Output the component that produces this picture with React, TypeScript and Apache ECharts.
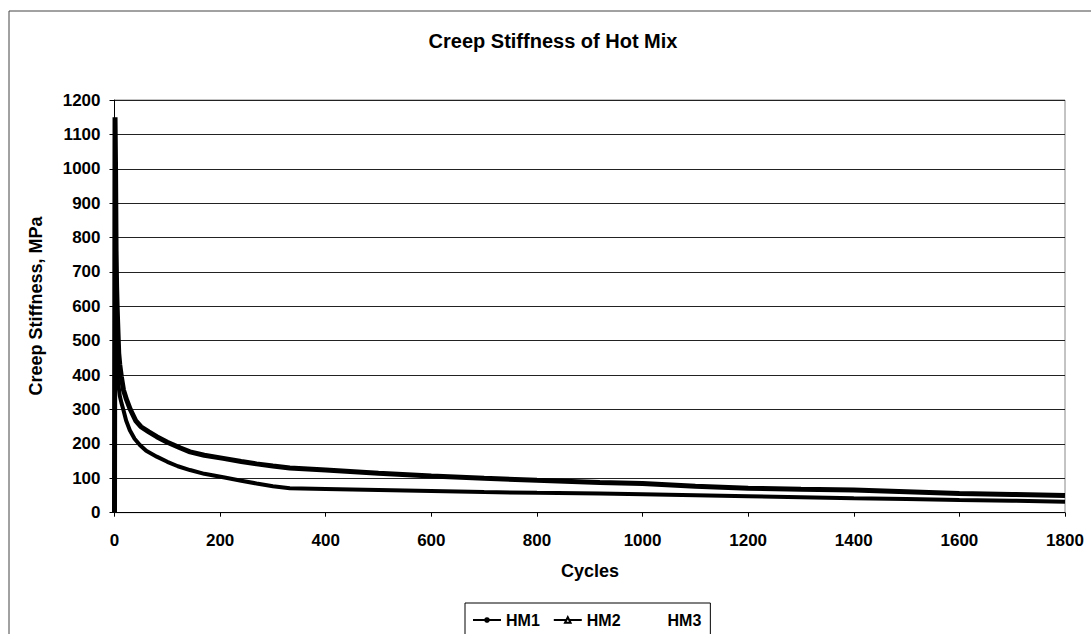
import React, { useEffect, useRef } from "react";
import * as echarts from "echarts";

const FONT = "'Liberation Sans', Arial, sans-serif";

const titleText = "Creep Stiffness of Hot Mix";
const xAxisName = "Cycles";
const yAxisName = "Creep Stiffness, MPa";
const seriesNames = ["HM1", "HM2", "HM3"];

const hm1Cycles = [0, 1, 2, 3, 5, 7, 10, 13, 17, 22, 29, 38, 48, 60, 80, 100, 120, 143, 170, 206, 240, 269, 300, 332, 400, 500, 600, 700, 800, 919, 1000, 1100, 1200, 1300, 1400, 1500, 1600, 1700, 1800];
const hm1Values = [0, 620, 520, 470, 420, 377, 340, 320, 298, 268, 240, 215, 197, 180, 163, 148, 135, 124, 113, 103, 93, 85, 77, 71, 69, 66, 63, 60, 58, 56, 54, 51, 48, 45, 42, 40, 37, 35, 32];

const hm2Cycles = [0, 1, 2, 3, 4, 5, 6, 8, 10, 13, 17, 23, 30, 40, 50, 65, 80, 100, 125, 143, 170, 206, 240, 269, 300, 332, 400, 500, 600, 700, 800, 919, 1000, 1100, 1200, 1300, 1400, 1500, 1600, 1700, 1800];
const hm2Values = [0, 1150, 1000, 760, 657, 599, 551, 464, 430, 395, 357, 328, 300, 268, 250, 235, 221, 205, 188, 177, 167, 158, 149, 142, 136, 130, 124, 115, 107, 100, 94, 88, 85, 77, 71, 68, 66, 61, 56, 53, 50];

const hm3Cycles = [0];
const hm3Values = [0];

const xMin = 0, xMax = 1800, xStep = 200;
const yMin = 0, yMax = 1200, yStep = 100;

const zip = (xs: number[], ys: number[]) => xs.map((x, i) => [x, ys[i]]);

export default function App() {
  const ref = useRef<HTMLDivElement>(null);
  useEffect(() => {
    if (!ref.current) return;
    const chart = echarts.init(ref.current, undefined, { renderer: "svg" });
    const labelStyle = {
      fontFamily: FONT, fontSize: 17, fontWeight: "bold" as const, color: "#000",
      formatter: (v: number) => String(v),
    };
    chart.setOption({
      animation: false,
      backgroundColor: "#fff",
      grid: { left: 114.5, right: 26, top: 100, bottom: 121.3, show: true, borderColor: "#888", borderWidth: 1 },
      xAxis: {
        type: "value", min: xMin, max: xMax, interval: xStep,
        axisLine: { show: true, onZero: false, lineStyle: { color: "#000", width: 1 } },
        axisTick: { show: true, inside: false, length: 4, lineStyle: { color: "#000" } },
        axisLabel: { ...labelStyle, margin: 19 },
        splitLine: { show: false },
      },
      yAxis: {
        type: "value", min: yMin, max: yMax, interval: yStep,
        axisLine: { show: true, lineStyle: { color: "#000", width: 1 } },
        axisTick: { show: true, inside: false, length: 5, lineStyle: { color: "#000" } },
        axisLabel: { ...labelStyle, margin: 14 },
        splitLine: { show: true, lineStyle: { color: "#222", width: 1 } },
      },
      legend: {
        left: 465, top: 603,
        borderColor: "#000", borderWidth: 1,
        padding: [9, 9, 9, 7],
        itemWidth: 28, itemHeight: 7, itemGap: 13,
        textStyle: { fontFamily: FONT, fontSize: 16, fontWeight: "bold", color: "#000" },
        data: seriesNames,
      },
      graphic: [
        { type: "rect", silent: true, shape: { x: 9, y: 11, width: 1200, height: 800 }, style: { fill: "none", stroke: "#444", lineWidth: 1 }, z: -1 },
        { type: "text", x: 553, y: 41, style: { text: titleText, fontFamily: FONT, fontSize: 20, fontWeight: "bold", fill: "#000", textAlign: "center", textVerticalAlign: "middle" } },
        { type: "text", x: 590, y: 571, style: { text: xAxisName, fontFamily: FONT, fontSize: 18, fontWeight: "bold", fill: "#000", textAlign: "center", textVerticalAlign: "middle" } },
        { type: "text", x: 36, y: 306, rotation: Math.PI / 2, style: { text: yAxisName, fontFamily: FONT, fontSize: 18, fontWeight: "bold", fill: "#000", textAlign: "center", textVerticalAlign: "middle" } },
      ],
      series: [
        {
          name: "HM1", type: "line", data: zip(hm1Cycles, hm1Values),
          symbol: "circle", symbolSize: 3, showSymbol: false,
          itemStyle: { color: "#000" },
          lineStyle: { color: "#000", width: 4 },
        },
        {
          name: "HM2", type: "line", data: zip(hm2Cycles, hm2Values),
          symbol: "triangle", symbolSize: 6, showSymbol: false,
          itemStyle: { color: "#fff", borderColor: "#000", borderWidth: 1 },
          lineStyle: { color: "#000", width: 5 },
        },
        {
          name: "HM3", type: "line", data: zip(hm3Cycles, hm3Values),
          symbol: "none",
          itemStyle: { color: "rgba(0,0,0,0)" },
          lineStyle: { color: "rgba(0,0,0,0)", width: 1 },
        },
      ],
    });
    return () => chart.dispose();
  }, []);
  return <div ref={ref} style={{ position: "absolute", left: 0, top: 0, width: 1091, height: 634 }} />;
}
